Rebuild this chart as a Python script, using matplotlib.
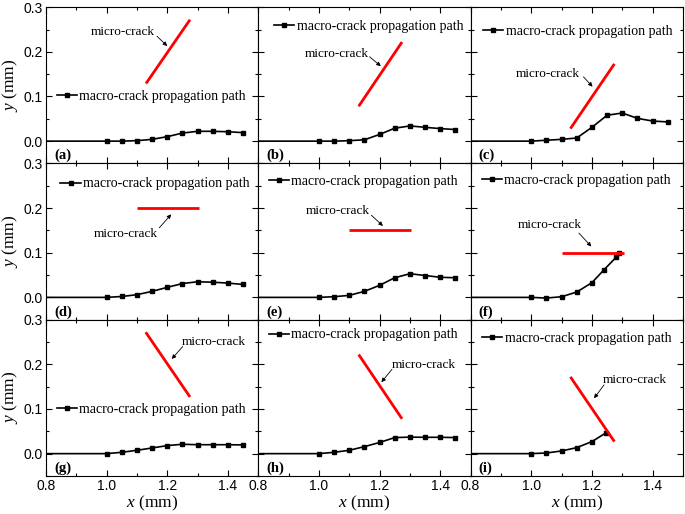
import matplotlib
matplotlib.use('Agg')
import matplotlib.pyplot as plt
from matplotlib.ticker import MultipleLocator

plt.rcParams['font.family'] = 'Liberation Serif'
plt.rcParams['mathtext.fontset'] = 'custom'
plt.rcParams['mathtext.it'] = 'Liberation Serif:italic'
plt.rcParams['mathtext.rm'] = 'Liberation Serif'

# Data.
panel_tags = ['(a)', '(b)', '(c)', '(d)', '(e)', '(f)', '(g)', '(h)', '(i)']

x_full = [0.8, 1.0, 1.05, 1.1, 1.15, 1.2, 1.25, 1.3, 1.35, 1.4, 1.45]
x_f = [0.8, 1.0, 1.05, 1.1, 1.15, 1.2, 1.24, 1.28, 1.29]
x_i = [0.8, 1.0, 1.05, 1.1, 1.15, 1.2, 1.245]

y_a = [0, 0, 0, 0.001, 0.004, 0.010, 0.018, 0.022, 0.022, 0.021, 0.019]
y_b = [0, 0, 0, 0.001, 0.003, 0.015, 0.029, 0.034, 0.031, 0.028, 0.026]
y_c = [0, 0, 0.002, 0.004, 0.007, 0.031, 0.058, 0.063, 0.051, 0.045, 0.043]
y_d = [0, 0, 0.002, 0.006, 0.0135, 0.0225, 0.031, 0.035, 0.034, 0.032, 0.029]
y_e = [0, 0, 0.0015, 0.0045, 0.0135, 0.027, 0.044, 0.053, 0.049, 0.045, 0.044]
y_f = [0, 0, -0.0015, 0.0015, 0.012, 0.033, 0.062, 0.09, 0.1]
y_g = [0, 0, 0.003, 0.0075, 0.0127, 0.018, 0.021, 0.020, 0.020, 0.020, 0.0195]
y_h = [0, 0, 0.003, 0.0075, 0.0157, 0.025, 0.036, 0.037, 0.0366, 0.0366, 0.036]
y_i = [0, 0, 0.0015, 0.006, 0.0135, 0.027, 0.046]

path_x = [x_full, x_full, x_full, x_full, x_full, x_f, x_full, x_full, x_i]
path_y = [y_a, y_b, y_c, y_d, y_e, y_f, y_g, y_h, y_i]

# micro-crack segments (x0, x1), (y0, y1)
crack_x = [(1.13, 1.275), (1.131, 1.274), (1.129, 1.274),
           (1.1, 1.305), (1.1, 1.305), (1.1, 1.305),
           (1.129, 1.275), (1.131, 1.274), (1.129, 1.274)]
crack_y = [(0.129, 0.272), (0.078, 0.222), (0.028, 0.173),
           (0.2, 0.2), (0.15, 0.15), (0.1, 0.1),
           (0.272, 0.127), (0.222, 0.078), (0.172, 0.027)]

# "micro-crack" note centre, arrow tail and arrow head
note_xy = [(1.055, 0.244), (1.06, 0.196), (1.056, 0.151),
           (1.064, 0.141), (1.063, 0.194), (1.062, 0.162),
           (1.355, 0.251), (1.344, 0.199), (1.341, 0.164)]
arrow_tail = [(1.166, 0.235), (1.167, 0.189), (1.172, 0.144),
              (1.174, 0.156), (1.173, 0.184), (1.157, 0.144),
              (1.251, 0.240), (1.241, 0.189), (1.24, 0.154)]
arrow_head = [(1.20, 0.213), (1.204, 0.168), (1.202, 0.122),
              (1.213, 0.186), (1.211, 0.160), (1.198, 0.114),
              (1.215, 0.212), (1.206, 0.160), (1.207, 0.124)]

# legend anchor (left of handle, centre height)
legend_xy = [(0.835, 0.1), (0.851, 0.257), (0.84, 0.246),
             (0.848, 0.254), (0.834, 0.259), (0.836, 0.262),
             (0.835, 0.0985), (0.834, 0.266), (0.838, 0.259)]

fig, axes = plt.subplots(3, 3, figsize=(6.85, 5.14), dpi=100)
fig.subplots_adjust(left=0.067, right=0.997, top=0.986, bottom=0.074,
                    wspace=0, hspace=0)

for k, ax in enumerate(axes.flat):
    row, col = divmod(k, 3)
    ax.plot(path_x[k], path_y[k], color='black', lw=1.2, marker='s',
            markersize=3.3, markevery=list(range(1, len(path_x[k]))),
            label='macro-crack propagation path')
    ax.plot(crack_x[k], crack_y[k], color='red', lw=2, solid_capstyle='butt')
    ax.text(note_xy[k][0], note_xy[k][1], 'micro-crack', fontsize=9.5,
            ha='center', va='center')
    ax.annotate('', xy=arrow_head[k], xytext=arrow_tail[k],
                arrowprops=dict(arrowstyle='-|>', lw=0.6, color='black',
                                mutation_scale=6, shrinkA=0, shrinkB=0))
    ax.legend(loc='center left', bbox_to_anchor=legend_xy[k],
              bbox_transform=ax.transData, frameon=False, fontsize=10,
              borderpad=0, borderaxespad=0, handlelength=1.45,
              handletextpad=0.2, numpoints=1)
    ax.text(0.038, 0.05, panel_tags[k], transform=ax.transAxes,
            fontsize=10.5, fontweight='bold', va='center', ha='left')

    ax.set_xlim(0.8, 1.5)
    ax.set_ylim(-0.05, 0.3)
    ax.xaxis.set_major_locator(MultipleLocator(0.2))
    ax.xaxis.set_minor_locator(MultipleLocator(0.1))
    ax.yaxis.set_major_locator(MultipleLocator(0.1))
    ax.yaxis.set_minor_locator(MultipleLocator(0.05))
    ax.tick_params(which='both', direction='in', top=True, right=True,
                   width=0.8, pad=2.5)
    ax.tick_params(which='major', length=4)
    ax.tick_params(which='minor', length=2)
    for s in ax.spines.values():
        s.set_linewidth(0.8)

    if col == 0:
        ax.set_yticks([0.0, 0.1, 0.2, 0.3])
        ax.set_yticklabels(['0.0', '0.1', '0.2', '0.3'],
                           family='Liberation Sans', fontsize=10)
        ax.set_ylabel(r'$y$ (mm)', fontsize=12.5, labelpad=2)
    else:
        ax.set_yticklabels([])
    if row == 2:
        ax.set_xticks([0.8, 1.0, 1.2, 1.4])
        ax.set_xticklabels(['0.8', '1.0', '1.2', '1.4'],
                           family='Liberation Sans', fontsize=10)
        ax.set_xlabel(r'$x$ (mm)', fontsize=12.5, labelpad=0)
    else:
        ax.set_xticklabels([])

fig.savefig('out.png', dpi=100)
